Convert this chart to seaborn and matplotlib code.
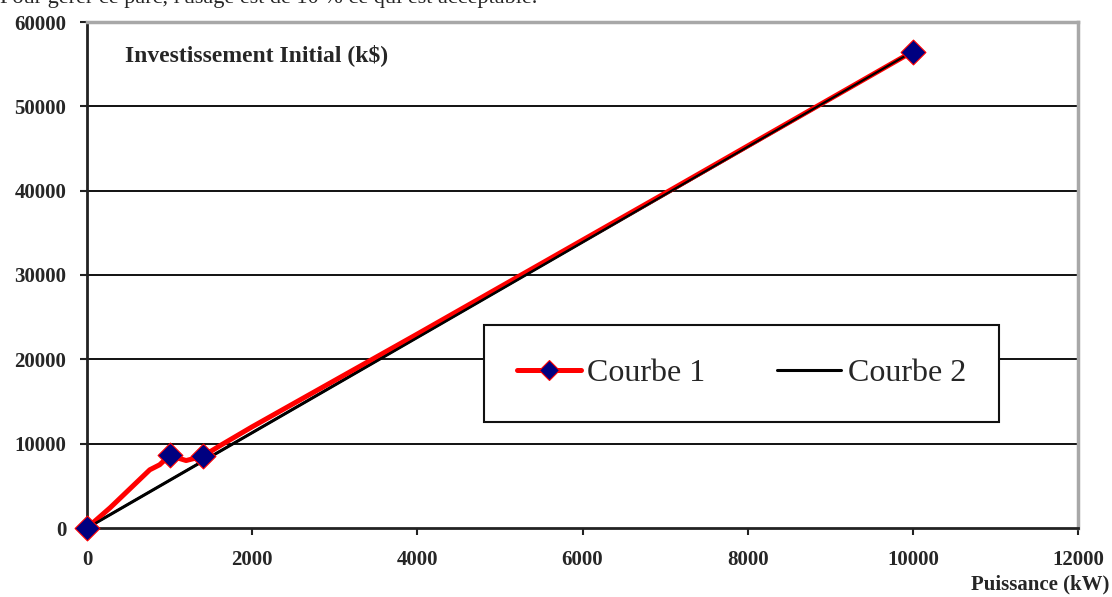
import matplotlib
matplotlib.use("Agg")
import matplotlib.pyplot as plt
import seaborn as sns
import pandas as pd
from matplotlib.lines import Line2D
from matplotlib.patches import Rectangle

# ---- data ----
courbe1_x = [0, 280, 760, 880, 1000, 1200, 1400, 1600, 2000, 4000, 7000, 10000]
courbe1_y = [0, 2400, 6900, 7500, 8600, 8000, 8500, 9700, 12000, 23000, 39700, 56500]
marker_x = [0, 1000, 1400, 10000]
marker_y = [0, 8600, 8500, 56500]
courbe2_x = [0, 10000]
courbe2_y = [0, 56500]
x_ticks = [0, 2000, 4000, 6000, 8000, 10000, 12000]
y_ticks = [0, 10000, 20000, 30000, 40000, 50000, 60000]
series_names = ["Courbe 1", "Courbe 2"]
chart_title = "Investissement Initial (k$)"
x_label = "Puissance (kW)"
top_text = "Pour gérer ce parc, l'usage est de 10 % ce qui est acceptable."

sns.set_theme(style="white")
plt.rcParams["font.family"] = ["Liberation Serif", "DejaVu Serif"]

fig = plt.figure(figsize=(11.12, 5.97), dpi=100)
ax = fig.add_axes([87 / 1112, 1 - 528 / 597, (1078 - 87) / 1112, (528 - 22) / 597])

df1 = pd.DataFrame({"x": courbe1_x, "y": courbe1_y})
df2 = pd.DataFrame({"x": courbe2_x, "y": courbe2_y})
dfm = pd.DataFrame({"x": marker_x, "y": marker_y})

sns.lineplot(data=df2, x="x", y="y", ax=ax, color="black", lw=2.2, sort=False, zorder=3)
sns.lineplot(data=df1, x="x", y="y", ax=ax, color="#ff0000", lw=3.6, sort=False, zorder=4)
sns.lineplot(data=df2, x="x", y="y", ax=ax, color="black", lw=1.6, sort=False, zorder=5)
sns.scatterplot(data=dfm, x="x", y="y", ax=ax, marker="D", s=160, color="#000080",
                edgecolor="#ff0000", linewidth=0.8, zorder=6, clip_on=False)

ax.set_xlim(0, 12000)
ax.set_ylim(0, 60000)
ax.set_xticks(x_ticks)
ax.set_yticks(y_ticks)
ax.set_xticklabels([str(v) for v in x_ticks])
ax.set_yticklabels([str(v) for v in y_ticks])
ax.set_xlabel("")
ax.set_ylabel("")
for lab in ax.get_xticklabels() + ax.get_yticklabels():
    lab.set_fontweight("bold")
    lab.set_fontsize(15)
ax.tick_params(axis="x", direction="out", length=5, width=1.5, color="#222222", pad=11, bottom=True)
ax.tick_params(axis="y", direction="out", length=5, width=1.5, color="#222222", pad=10, left=True)

for y in y_ticks[1:-1]:
    ax.axhline(y, color="#111111", lw=1.4, zorder=1)

ax.spines["left"].set_color("#222222")
ax.spines["bottom"].set_color("#222222")
ax.spines["left"].set_linewidth(2)
ax.spines["bottom"].set_linewidth(2)
ax.spines["top"].set_color("#a8a8a8")
ax.spines["right"].set_color("#a8a8a8")
ax.spines["top"].set_linewidth(2.5)
ax.spines["right"].set_linewidth(2.5)
for s in ax.spines.values():
    s.set_visible(True)

ax.text(0.038, 0.935, chart_title, transform=ax.transAxes, fontsize=17,
        fontweight="bold", ha="left", va="center")

fig.text(0.998, 1 - 584 / 597, x_label, fontsize=15, fontweight="bold", ha="right", va="center")
fig.text(0.0, 1 - 3 / 597, top_text, fontsize=16, ha="left", va="baseline")

# legend frame
bx0 = (484 - 87) / 991
by0 = (528 - 422) / 506
bw = (999 - 484) / 991
bh = (422 - 325) / 506
ax.add_patch(Rectangle((bx0, by0), bw, bh, transform=ax.transAxes, facecolor="white",
                       edgecolor="#111111", lw=1.5, zorder=10, clip_on=False))
handles = [
    Line2D([0], [0], color="#ff0000", lw=3.6, marker="D", markersize=10,
           markerfacecolor="#000080", markeredgecolor="#ff0000", markeredgewidth=0.8),
    Line2D([0], [0], color="black", lw=2.2),
]
leg = ax.legend(handles, series_names, loc="center",
                bbox_to_anchor=(bx0, by0, bw, bh), bbox_transform=ax.transAxes,
                ncol=2, frameon=False, fontsize=23, handlelength=2.0,
                handletextpad=0.2, columnspacing=2.25)
leg.set_zorder(11)

fig.savefig("out.png", dpi=100, facecolor="white")
